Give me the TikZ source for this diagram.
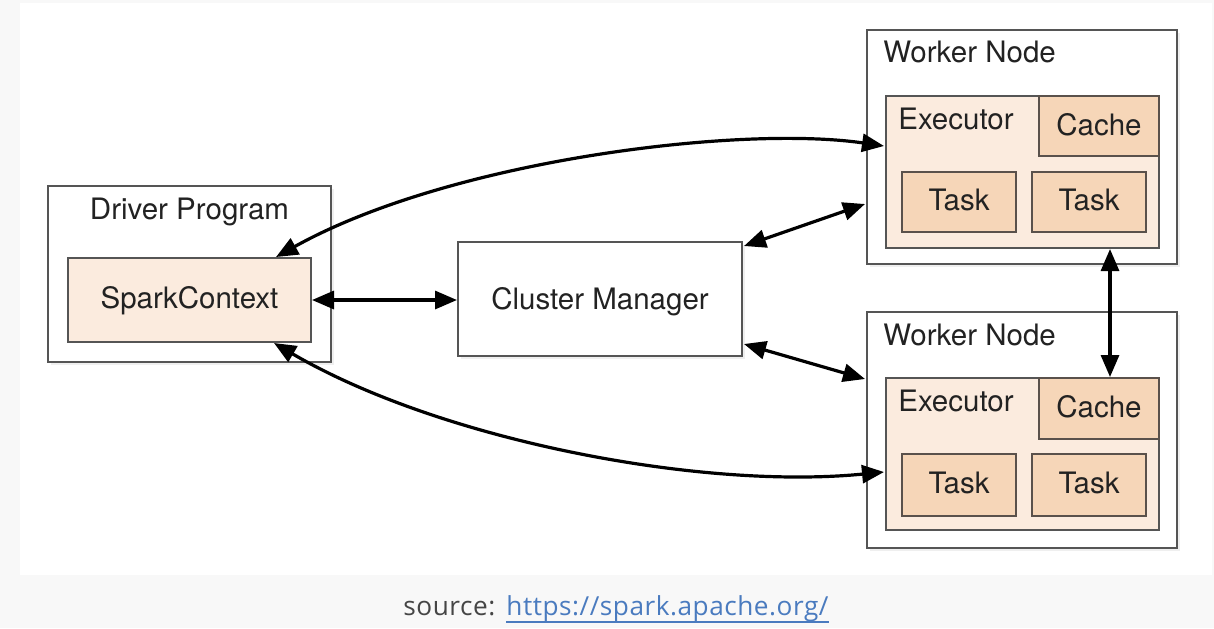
\documentclass[tikz,border=0pt]{standalone}
\usepackage{fontspec}
\setmainfont{TeX Gyre Heros}
\newfontfamily\capfont[LetterSpace=2]{Open Sans}
\usetikzlibrary{arrows.meta,calc,fit,shadows}

\definecolor{pagegray}{HTML}{F8F8F8}
\definecolor{edge}{HTML}{555555}
\definecolor{inneredge}{HTML}{5A514B}
\definecolor{lightpeach}{HTML}{FBEBDE}
\definecolor{peach}{HTML}{F6D6B8}
\definecolor{ink}{HTML}{222222}
\definecolor{capgray}{HTML}{454545}
\definecolor{linkblue}{HTML}{4A7BBF}

\tikzset{
  box/.style={draw=edge, line width=1pt, fill=white, inner sep=0pt,
    drop shadow={opacity=0.12, shadow xshift=1.5pt, shadow yshift=-1.5pt}},
  execbox/.style={draw=edge, line width=1pt, fill=lightpeach, inner sep=0pt},
  taskbox/.style={draw=inneredge, line width=1pt, fill=peach, inner sep=0pt},
  lbl/.style={inner sep=0pt, text=ink, font=\fontsize{14.75}{17}\selectfont},
  caplbl/.style={inner sep=0pt, font=\capfont\fontsize{13.1}{15}\selectfont},
  link/.style={line width=1.6pt, {Triangle[length=11pt,width=9pt]}-{Triangle[length=11pt,width=9pt]}}
}

\begin{document}
\begin{tikzpicture}[x=0.5pt,y=-0.5pt]
  % page and white panel
  \fill[pagegray] (0,0) rectangle (1214,628);
  \fill[white] (20,3) rectangle (1212,575);
  \useasboundingbox (0,0) rectangle (1214,628);

  % driver program
  \node[box, fit={(48,186)(331,362)}] (dp) {};
  \node[execbox, fit={(68,258)(311,342)}] (sc) {};
  \node[lbl, anchor=base] (dptxt) at (189.5,219) {Driver Program};
  \node[lbl, anchor=base] (sctxt) at (189.5,308) {SparkContext};

  % cluster manager
  \node[box, fit={(458,242)(742,356)}] (cm) {};
  \node[lbl, anchor=base] (cmtxt) at (600,309) {Cluster Manager};

  % worker node 1
  \node[box, fit={(867,30)(1177,264)}] (w1) {};
  \node[execbox, fit={(886,96)(1159,248)}] (e1) {};
  \node[taskbox, fit={(1039,96)(1159,156)}] (c1) {};
  \node[taskbox, fit={(902,172)(1016,232)}] (t1a) {};
  \node[taskbox, fit={(1032,172)(1146,232)}] (t1b) {};
  \node[lbl, anchor=base west] (w1txt) at (883,62) {Worker Node};
  \node[lbl, anchor=base west] (e1txt) at (898,129) {Executor};
  \node[lbl, anchor=base] (c1txt) at (c1.center |- 0,135) {Cache};
  \node[lbl, anchor=base] (t1atxt) at (t1a.center |- 0,210) {Task};
  \node[lbl, anchor=base] (t1btxt) at (t1b.center |- 0,210) {Task};

  % worker node 2
  \node[box, fit={(867,312)(1177,548)}] (w2) {};
  \node[execbox, fit={(886,378)(1159,530)}] (e2) {};
  \node[taskbox, fit={(1039,378)(1159,439)}] (c2) {};
  \node[taskbox, fit={(902,454)(1016,516)}] (t2a) {};
  \node[taskbox, fit={(1032,454)(1146,516)}] (t2b) {};
  \node[lbl, anchor=base west] (w2txt) at (883,345) {Worker Node};
  \node[lbl, anchor=base west] (e2txt) at (898,411) {Executor};
  \node[lbl, anchor=base] (c2txt) at (c2.center |- 0,417) {Cache};
  \node[lbl, anchor=base] (t2atxt) at (t2a.center |- 0,493) {Task};
  \node[lbl, anchor=base] (t2btxt) at (t2b.center |- 0,493) {Task};

  % connectors
  \draw[link] (sc.east) -- (cm.west |- sc.east);
  \draw[link] ($(cm.north east)+(1,5)$) -- ($(w1.south west)+(-1,-61)$);
  \draw[link] ($(cm.south east)+(1,-13)$) -- ($(w2.north west)+(-1,68)$);
  \coordinate (vbot) at ($(c2.north)+(11,0)$);
  \draw[link] (e1.south -| vbot) -- (vbot);
  \draw[link] ($(sc.north east)+(-36,0)$) .. controls (450,160) and (740,125) .. ($(e1.north west)+(-1,51)$);
  \draw[link] ($(sc.south east)+(-38,0)$) .. controls (440,440) and (700,490) .. ($(e2.north west)+(-1,95)$);

  % source line
  \node[caplbl, anchor=base west, text=capgray] (srctxt) at (403,615) {source:};
  \node[caplbl, anchor=base west, text=linkblue] (urltxt) at (506,615) {https://spark.apache.org/};
  \draw[linkblue, line width=1pt] ($(urltxt.base west)+(0,7)$) -- ($(urltxt.base east)+(0,7)$);
\end{tikzpicture}
\end{document}
